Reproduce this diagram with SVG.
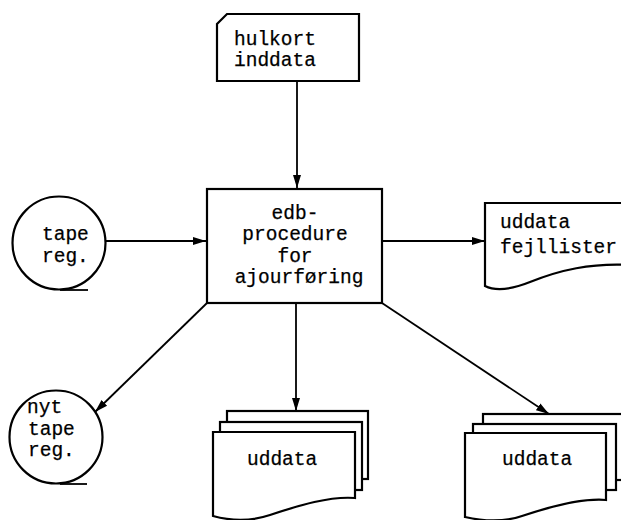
<svg xmlns="http://www.w3.org/2000/svg" width="621" height="520" viewBox="0 0 621 520">
  <style>
    .shape { fill: #fff; stroke: #000; stroke-width: 2.2; stroke-linejoin: miter; }
    .edge { fill: none; stroke: #000; stroke-width: 1.8; }
    .lbl { font-family: "Liberation Mono", "Courier New", monospace; font-size: 19.5px; fill: #000; stroke: #000; stroke-width: 0.25; }
    .mid { text-anchor: middle; }
  </style>
  <defs>
    <marker id="arrow" markerUnits="userSpaceOnUse" markerWidth="14" markerHeight="10" refX="13" refY="5" orient="auto">
      <path d="M0,1 L13,5 L0,9 Z" fill="#000"/>
    </marker>
  </defs>
  <rect width="621" height="520" fill="#fff"/>

  <!-- connectors -->
  <g id="connectors">
    <line class="edge" x1="297" y1="81" x2="297" y2="188" marker-end="url(#arrow)"/>
    <line class="edge" x1="106" y1="241" x2="206" y2="241" marker-end="url(#arrow)"/>
    <line class="edge" x1="382" y1="241" x2="485" y2="241" marker-end="url(#arrow)"/>
    <line class="edge" x1="296" y1="303" x2="296" y2="411" marker-end="url(#arrow)"/>
    <line class="edge" x1="382" y1="303" x2="549" y2="414" marker-end="url(#arrow)"/>
    <line class="edge" x1="207" y1="303" x2="95" y2="412" marker-end="url(#arrow)"/>
  </g>

  <!-- punched card input -->
  <g id="hulkort">
    <path class="shape" d="M227,14 H359 V81 H217 V24 Z"/>
    <text class="lbl" x="234" y="45">hulkort</text>
    <text class="lbl" x="234" y="66">inddata</text>
  </g>

  <!-- magnetic tape input -->
  <g id="tape">
    <circle class="shape" cx="59" cy="243" r="46.5"/>
    <line class="edge" x1="60" y1="290" x2="88" y2="290" stroke-width="2.6"/>
    <text class="lbl" x="42" y="240">tape</text>
    <text class="lbl" x="42" y="262">reg.</text>
  </g>

  <!-- processing -->
  <g id="procedure">
    <rect class="shape" x="207" y="189" width="175" height="114"/>
    <text class="lbl mid" x="295" y="219">edb-</text>
    <text class="lbl mid" x="295" y="240">procedure</text>
    <text class="lbl mid" x="295" y="262">for</text>
    <text class="lbl mid" x="299" y="283">ajourføring</text>
  </g>

  <!-- error listing document -->
  <g id="fejllister">
    <path class="shape" d="M485,203 H630 V265 C590,263 560,270 530,282 C510,290 495,291 485,286 Z"/>
    <text class="lbl" x="500" y="228">uddata</text>
    <text class="lbl" x="500" y="253">fejllister</text>
  </g>

  <!-- new tape -->
  <g id="nyt-tape">
    <circle class="shape" cx="56" cy="437" r="46.5"/>
    <line class="edge" x1="60" y1="484" x2="87" y2="484" stroke-width="2.6"/>
    <text class="lbl" x="27" y="413">nyt</text>
    <text class="lbl" x="28" y="435">tape</text>
    <text class="lbl" x="28" y="456">reg.</text>
  </g>

  <!-- output documents, middle -->
  <g id="uddata-1">
    <rect class="shape" x="227" y="411" width="141" height="68"/>
    <rect class="shape" x="220" y="422" width="142" height="68"/>
    <path class="shape" d="M213,432 H355 V498 C330,496 300,505 270,515 C255,520 235,522 213,516 Z"/>
    <text class="lbl" x="247" y="465">uddata</text>
  </g>

  <!-- output documents, right -->
  <g id="uddata-2">
    <rect class="shape" x="483" y="414" width="150" height="66"/>
    <rect class="shape" x="473" y="424" width="143" height="66"/>
    <path class="shape" d="M465,433 H606 V500 C582,498 552,506 522,516 C507,521 487,522 465,517 Z"/>
    <text class="lbl" x="502" y="465">uddata</text>
  </g>
</svg>
